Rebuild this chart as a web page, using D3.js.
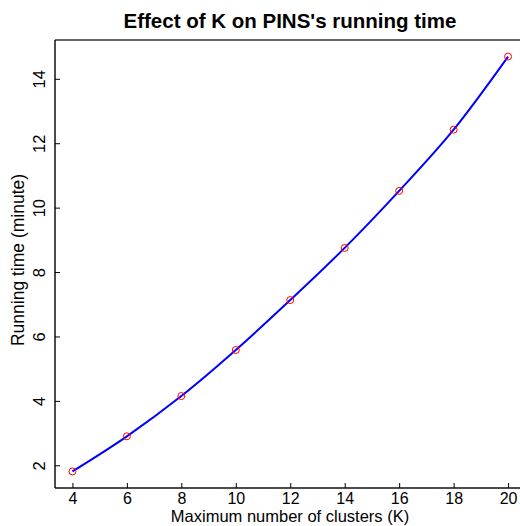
<!DOCTYPE html>
<html><head><meta charset="utf-8">
<script src="https://cdn.jsdelivr.net/npm/d3@7"></script>
<style>body{margin:0;background:#fff}svg{display:block}text{font-family:"Liberation Sans",Arial,sans-serif}</style>
</head><body>
<svg id="c" width="520" height="526"></svg>
<script>
const kValues = [4, 6, 8, 10, 12, 14, 16, 18, 20];
const runningTime = [1.81, 2.90, 4.15, 5.58, 7.13, 8.75, 10.52, 12.42, 14.69];
const xTicks = [4, 6, 8, 10, 12, 14, 16, 18, 20];
const yTicks = [2, 4, 6, 8, 10, 12, 14];
const title = "Effect of K on PINS's running time";
const xLabel = "Maximum number of clusters (K)";
const yLabel = "Running time (minute)";

const svg = d3.select("#c");
const L = 55, R = 525.5, T = 40, B = 488;
const x = d3.scaleLinear().domain([3.36, 20.64]).range([L, R]);
const y = d3.scaleLinear().domain([1.295, 15.205]).range([B, T]);

// box
svg.append("line").attr("x1", L).attr("x2", 520).attr("y1", T).attr("y2", T).attr("stroke", "#666").attr("stroke-width", 2);
svg.append("line").attr("x1", L).attr("x2", 520).attr("y1", B).attr("y2", B).attr("stroke", "#111").attr("stroke-width", 1.5);
svg.append("line").attr("x1", L).attr("x2", L).attr("y1", T).attr("y2", B).attr("stroke", "#111").attr("stroke-width", 1.5);

// x axis (ticks point inward)
const gx = svg.append("g").attr("transform", `translate(0,${B})`)
  .call(d3.axisBottom(x).tickValues(xTicks).tickSize(-5).tickFormat(d3.format("d")));
gx.select(".domain").remove();
gx.selectAll("line").attr("stroke", "#000");
gx.selectAll("text").attr("font-size", 16).attr("fill", "#000").attr("font-family", "Liberation Sans, Arial, sans-serif")
  .attr("y", 15.5).attr("dy", null);

// y axis (ticks point inward)
const gy = svg.append("g").attr("transform", `translate(${L},0)`)
  .call(d3.axisLeft(y).tickValues(yTicks).tickSize(-5).tickFormat(d3.format("d")));
gy.select(".domain").remove();
gy.selectAll("line").attr("stroke", "#000");
gy.selectAll("text").attr("font-size", 16.5).attr("fill", "#000").attr("font-family", "Liberation Sans, Arial, sans-serif")
  .attr("x", null).attr("dy", null).attr("text-anchor", "middle")
  .attr("transform", "translate(-10,0) rotate(-90)");

// line
const pts = kValues.map((k, i) => [k, runningTime[i]]);
svg.append("path").datum(pts)
  .attr("fill", "none").attr("stroke", "#0000ff").attr("stroke-width", 2)
  .attr("d", d3.line().x(d => x(d[0])).y(d => y(d[1])).curve(d3.curveMonotoneX));

svg.selectAll("circle.p").data(pts).enter().append("circle")
  .attr("cx", d => x(d[0])).attr("cy", d => y(d[1])).attr("r", 3.5)
  .attr("fill", "none").attr("stroke", "#ff0000").attr("stroke-width", 1);

// labels
svg.append("text").attr("x", 290).attr("y", 28).attr("text-anchor", "middle")
  .attr("font-size", 20.5).attr("font-weight", "bold").text(title);
svg.append("text").attr("x", 290).attr("y", 522).attr("text-anchor", "middle")
  .attr("font-size", 16.5).text(xLabel);
svg.append("text").attr("transform", "translate(24,260) rotate(-90)").attr("text-anchor", "middle")
  .attr("font-size", 17.5).text(yLabel);
</script>
</body></html>
